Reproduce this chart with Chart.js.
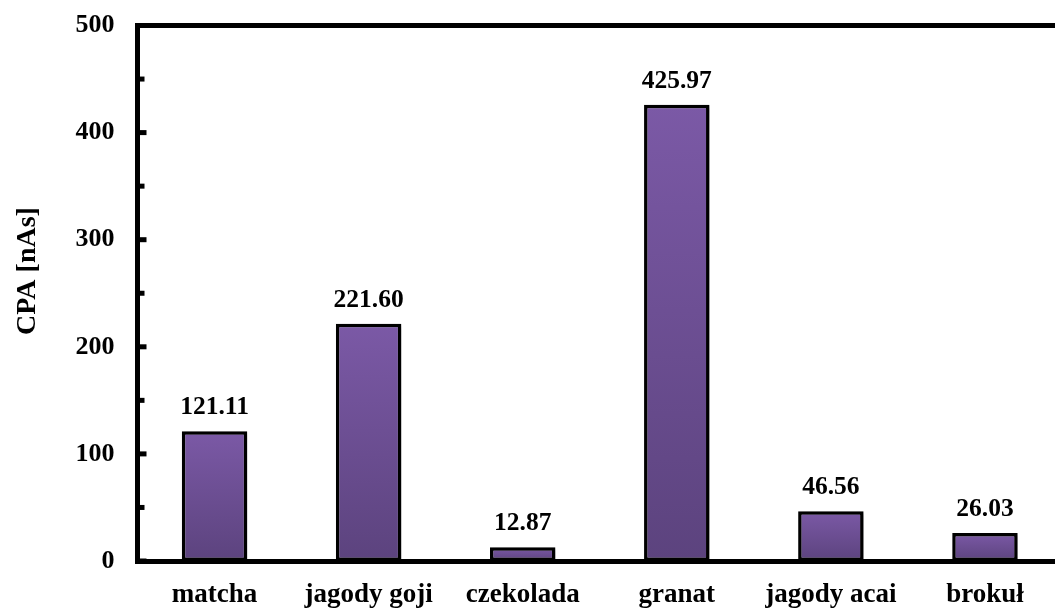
<!DOCTYPE html>
<html>
<head>
<meta charset="utf-8">
<script src="https://cdn.jsdelivr.net/npm/chart.js@4/dist/chart.umd.min.js"></script>
<style>
  html, body { margin: 0; padding: 0; background: #ffffff; overflow: hidden; }
  #wrap { width: 1062px; height: 610px; }
</style>
</head>
<body>
<div id="wrap"><canvas id="c" width="1062" height="610"></canvas></div>
<script>
// Categories and CPA values
const categories = ['matcha', 'jagody goji', 'czekolada', 'granat', 'jagody acai', 'brokuł'];
const cpaValues = [121.11, 221.60, 12.87, 425.97, 46.56, 26.03];
const valueLabels = ['121.11', '221.60', '12.87', '425.97', '46.56', '26.03'];
const yTicks = [0, 100, 200, 300, 400, 500];
const axisTitle = 'CPA [nAs]';

const SERIF = '"Liberation Serif", "Times New Roman", serif';
const TOP_COLOR = '#7b59a6';
const BOTTOM_COLOR = '#5c437e';

// Gradient fill per bar, from its top down to the baseline
function barGradient(context) {
  const chart = context.chart;
  if (!chart.chartArea || context.dataIndex === undefined) return TOP_COLOR;
  const y = chart.scales.y;
  const top = y.getPixelForValue(context.dataset.data[context.dataIndex]);
  const base = y.getPixelForValue(0);
  const g = chart.ctx.createLinearGradient(0, top, 0, base);
  g.addColorStop(0, TOP_COLOR);
  g.addColorStop(1, BOTTOM_COLOR);
  return g;
}

// Soft shadow behind the bars
const barShadow = {
  id: 'barShadow',
  beforeDatasetsDraw(chart) {
    const ctx = chart.ctx;
    ctx.save();
    ctx.shadowColor = 'rgba(0,0,0,0.28)';
    ctx.shadowBlur = 4;
    ctx.shadowOffsetX = 3;
    ctx.shadowOffsetY = 2;
  },
  afterDatasetsDraw(chart) {
    chart.ctx.restore();
  }
};

// Value labels above each bar
const valueLabelPlugin = {
  id: 'valueLabels',
  afterDatasetsDraw(chart) {
    const ctx = chart.ctx;
    const meta = chart.getDatasetMeta(0);
    ctx.save();
    ctx.font = 'bold 25.5px ' + SERIF;
    ctx.fillStyle = '#000000';
    ctx.textAlign = 'center';
    ctx.textBaseline = 'alphabetic';
    meta.data.forEach((bar, i) => {
      ctx.fillText(valueLabels[i], bar.x, bar.y - 17);
    });
    ctx.restore();
  }
};

// Top frame line, inward tick marks and the rotated axis title
const framePlugin = {
  id: 'frame',
  afterDraw(chart) {
    const ctx = chart.ctx;
    const area = chart.chartArea;
    const y = chart.scales.y;
    ctx.save();
    ctx.fillStyle = '#000000';
    // top frame line
    ctx.fillRect(area.left - 2.5, area.top - 2.5, chart.width - area.left + 2.5, 5);
    // inward ticks: long at labelled values, short halfway between
    const ticks = y.ticks.map(t => t.value);
    for (let i = 0; i < ticks.length; i++) {
      const py = y.getPixelForValue(ticks[i]);
      ctx.fillRect(area.left + 2, py - 2.5, 7, 5);
      if (i < ticks.length - 1) {
        const mid = (ticks[i] + ticks[i + 1]) / 2;
        const pm = y.getPixelForValue(mid);
        ctx.fillRect(area.left + 2, pm - 2.5, 5, 5);
      }
    }
    // axis title
    ctx.font = 'bold 28px ' + SERIF;
    ctx.textAlign = 'center';
    ctx.textBaseline = 'alphabetic';
    ctx.translate(34.5, 271);
    ctx.rotate(-Math.PI / 2);
    ctx.fillText(axisTitle, 0, 0);
    ctx.restore();
  }
};

new Chart(document.getElementById('c'), {
  type: 'bar',
  data: {
    labels: categories,
    datasets: [{
      data: cpaValues,
      backgroundColor: barGradient,
      borderColor: '#000000',
      borderWidth: 3.5,
      borderSkipped: false,
      barPercentage: 0.425,
      categoryPercentage: 1.0
    }]
  },
  options: {
    responsive: false,
    animation: false,
    devicePixelRatio: 1,
    layout: { padding: { top: 25.5, left: 0, right: 0, bottom: 0 } },
    plugins: {
      legend: { display: false },
      tooltip: { enabled: false }
    },
    scales: {
      x: {
        grid: { display: false, drawTicks: false },
        border: { display: true, color: '#000000', width: 5 },
        ticks: {
          color: '#000000',
          padding: 18,
          maxRotation: 0,
          autoSkip: false,
          font: { family: SERIF, size: 27, weight: 'bold' }
        },
        afterFit(scale) {
          scale.height = 49;
          scale.paddingLeft = 0;
          scale.paddingRight = 0;
        }
      },
      y: {
        min: 0,
        max: 500,
        afterBuildTicks(scale) { scale.ticks = yTicks.map(v => ({ value: v })); },
        grid: { display: false, drawTicks: false },
        border: { display: true, color: '#000000', width: 5 },
        ticks: {
          color: '#000000',
          padding: 23,
          font: { family: SERIF, size: 26, weight: 'bold' }
        },
        afterFit(scale) {
          scale.width = 137.5;
          scale.paddingTop = 0;
          scale.paddingBottom = 0;
        }
      }
    }
  },
  plugins: [barShadow, valueLabelPlugin, framePlugin]
});
</script>
</body>
</html>
